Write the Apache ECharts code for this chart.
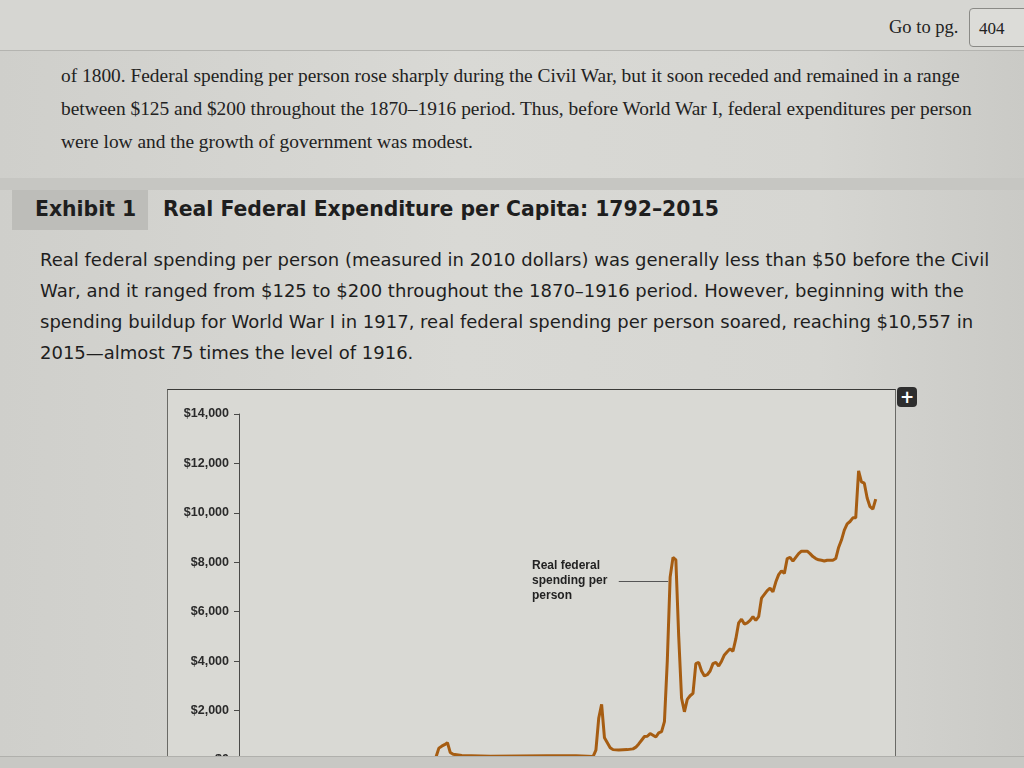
<!DOCTYPE html>
<html>
<head>
<meta charset="utf-8">
<script src="https://cdn.jsdelivr.net/npm/echarts@6/dist/echarts.min.js"></script>
<style>
  html, body { margin: 0; padding: 0; width: 1024px; height: 768px; overflow: hidden; }
  body { background: linear-gradient(90deg, #cfcfcb 0%, #d9d9d5 45%, #d6d6d2 80%, #cacac6 100%); position: relative; }
  .abs { position: absolute; white-space: nowrap; }
  .serif { font-family: "Liberation Serif", "DejaVu Serif", serif; color: #222; }
  .sans { font-family: "DejaVu Sans", Verdana, sans-serif; color: #1e1e1e; }
</style>
</head>
<body>
<!-- top bar -->
<div class="abs" style="left:0;top:0;width:1024px;height:50px;background:#d6d6d2;border-bottom:1px solid #b4b4b0;"></div>
<div class="abs serif" style="left:889px;top:17px;font-size:18.5px;">Go to pg.</div>
<div class="abs serif" style="left:969px;top:8px;width:60px;height:39px;border:1px solid #8a8a86;border-radius:4px;background:#dcdcd8;font-size:17px;line-height:39px;padding-left:9px;box-sizing:border-box;">404</div>

<!-- body text -->
<div class="abs serif" style="left:61px;top:59px;font-size:19.4px;line-height:33px;">
  of 1800. Federal spending per person rose sharply during the Civil War, but it soon receded and remained in a range<br>
  between $125 and $200 throughout the 1870–1916 period. Thus, before World War I, federal expenditures per person<br>
  were low and the growth of government was modest.
</div>

<!-- exhibit header -->
<div class="abs" style="left:0;top:178px;width:1024px;height:12px;background:#c6c6c2;"></div>
<div class="abs" style="left:12px;top:190px;width:136px;height:40px;background:#bdbdb9;"></div>
<div class="abs sans" style="left:35px;top:197px;font-size:20.4px;font-weight:bold;">Exhibit 1</div>
<div class="abs sans" style="left:163px;top:197px;font-size:20.4px;font-weight:bold;">Real Federal Expenditure per Capita: 1792–2015</div>

<!-- caption -->
<div class="abs sans" style="left:40px;top:244px;font-size:18px;line-height:31px;">
  Real federal spending per person (measured in 2010 dollars) was generally less than $50 before the Civil<br>
  War, and it ranged from $125 to $200 throughout the 1870–1916 period. However, beginning with the<br>
  spending buildup for World War I in 1917, real federal spending per person soared, reaching $10,557 in<br>
  2015—almost 75 times the level of 1916.
</div>

<!-- chart frame -->
<div id="chart" class="abs" style="left:167px;top:389px;width:727px;height:420px;border-top:1px solid #3a3a38;border-left:1px solid #6a6a66;border-right:1px solid #6a6a66;background:#d9d9d4;"></div>
<div class="abs" style="left:897px;top:387px;width:20px;height:20px;background:#2e2e2e;border-radius:4px;color:#fff;font-family:'DejaVu Sans',sans-serif;font-weight:bold;font-size:17px;line-height:20px;text-align:center;">+</div>

<!-- bottom screen edge -->
<div class="abs" style="left:0;top:756px;width:1024px;height:12px;background:#c8c8c4;border-top:1px solid #b0b0ac;"></div>

<script>
// years and real federal spending per person (2010 dollars)
const years = [
  1792, 1800, 1810, 1820, 1830, 1840, 1850, 1860, 1861, 1862, 1863, 1864, 1865, 1866, 1867,
  1870, 1880, 1890, 1900, 1910, 1916, 1917, 1918, 1919, 1920, 1921, 1922, 1923, 1925, 1928,
  1930, 1931, 1932, 1933, 1934, 1935, 1936, 1937, 1938, 1939, 1940, 1941, 1942, 1943, 1944,
  1945, 1946, 1947, 1948, 1949, 1950, 1951, 1952, 1953, 1954, 1955, 1956, 1957, 1958, 1959,
  1960, 1961, 1962, 1963, 1964, 1965, 1966, 1967, 1968, 1969, 1970, 1971, 1972, 1973, 1974,
  1975, 1976, 1977, 1978, 1979, 1980, 1981, 1982, 1983, 1984, 1985, 1986, 1987, 1988, 1989,
  1990, 1991, 1992, 1993, 1994, 1995, 1996, 1997, 1998, 1999, 2000, 2001, 2002, 2003, 2004,
  2005, 2006, 2007, 2008, 2009, 2010, 2011, 2012, 2013, 2014, 2015
];
const spending = [
  30, 35, 25, 40, 35, 45, 45, 50, 120, 480, 560, 620, 700, 300, 230,
  180, 150, 160, 170, 175, 141, 400, 1700, 2250, 900, 700, 500, 420, 400, 420,
  450, 520, 650, 800, 950, 960, 1070, 1000, 930, 1100, 1150, 1550, 4000, 7400, 8200,
  8100, 5000, 2500, 1950, 2450, 2600, 2700, 3900, 3950, 3600, 3400, 3450, 3600, 3900, 3950,
  3800, 4000, 4250, 4380, 4500, 4400, 4900, 5550, 5700, 5500, 5550, 5650, 5800, 5650, 5800,
  6550, 6700, 6850, 6950, 6800, 7200, 7500, 7650, 7550, 8150, 8200, 8050, 8200, 8350, 8450,
  8450, 8450, 8350, 8230, 8150, 8100, 8080, 8050, 8080, 8080, 8080, 8150, 8600, 8900, 9300,
  9550, 9650, 9800, 9800, 11700, 11250, 11200, 10600, 10250, 10150, 10557
];
const yTicks = [0, 2000, 4000, 6000, 8000, 10000, 12000, 14000];
const seriesLabel = ['Real federal', 'spending per', 'person'];

const chart = echarts.init(document.getElementById('chart'));

const option = {
  animation: false,
  grid: { left: 71, right: 5, top: 24, bottom: 50 },
  xAxis: {
    type: 'value',
    min: 1792,
    max: 2020,
    axisLine: { show: true, lineStyle: { color: '#444' } },
    axisTick: { show: false },
    axisLabel: { show: false },
    splitLine: { show: false },
  },
  yAxis: {
    type: 'value',
    min: yTicks[0],
    max: yTicks[yTicks.length - 1],
    interval: 2000,
    axisLine: { show: true, lineStyle: { color: '#4a4a48', width: 1 } },
    axisTick: { show: true, length: 5, lineStyle: { color: '#4a4a48' } },
    axisLabel: {
      color: '#2a2a2a',
      fontFamily: 'Liberation Sans, Arial, sans-serif',
      fontSize: 12.5,
      fontWeight: 'bold',
      margin: 10,
      formatter: function (value) {
        return '$' + value.toLocaleString('en-US');
      },
    },
    splitLine: { show: false },
  },
  series: [
    {
      type: 'line',
      data: years.map((y, i) => [y, spending[i]]),
      showSymbol: false,
      lineStyle: { color: '#a65d12', width: 3 },
      markLine: {
        silent: true,
        symbol: 'none',
        label: { show: false },
        lineStyle: { color: '#555', width: 1, type: 'solid' },
        data: [[{ coord: [1925, 7230] }, { coord: [1942.3, 7230] }]],
      },
    },
  ],
  graphic: [
    {
      type: 'text',
      left: 364,
      top: 168,
      style: {
        text: seriesLabel.join('\n'),
        fill: '#222',
        font: 'bold 12px "Liberation Sans", Arial, sans-serif',
        lineHeight: 15,
      },
    },
  ],
};

chart.setOption(option);
</script>
</body>
</html>
